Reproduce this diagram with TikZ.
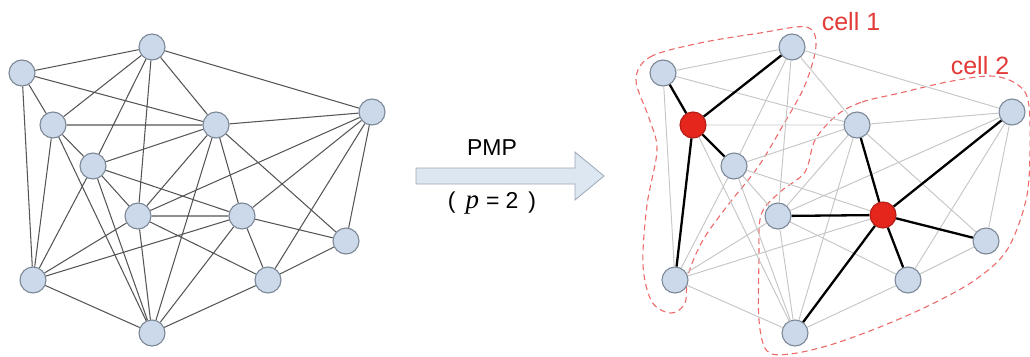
\documentclass[tikz,border=0pt]{standalone}
\usepackage{fontspec}
\setmainfont{Liberation Sans}
\newfontfamily\symfont{Liberation Serif}
\usepackage{xcolor}
\usetikzlibrary{positioning}
\definecolor{vtxfill}{HTML}{CBD9EA}
\definecolor{vtxline}{HTML}{7D8896}
\definecolor{hubfill}{HTML}{E4261C}
\definecolor{hubline}{HTML}{B31D15}
\definecolor{edgegray}{HTML}{555555}
\definecolor{fadegray}{HTML}{C6C6C6}
\definecolor{cellred}{HTML}{EC6A6A}
\definecolor{celltext}{HTML}{E23A36}
\definecolor{arrowfill}{HTML}{DDE7F2}
\definecolor{arrowline}{HTML}{9AA7B5}
\tikzset{
  vtx/.style={circle,draw=vtxline,fill=vtxfill,line width=1.1pt,
              minimum size=26pt,inner sep=0pt},
  hubvtx/.style={vtx,draw=hubline,fill=hubfill},
  edgeline/.style={draw=edgegray,line width=1.05pt},
  fadeline/.style={draw=fadegray,line width=0.95pt},
  linkline/.style={draw=black,line width=2.3pt},
  cellline/.style={draw=cellred,line width=1.1pt,dash pattern=on 6pt off 4pt},
  celllabel/.style={text=celltext,font=\fontsize{25}{28}\selectfont,inner sep=0pt},
  steplabel/.style={font=\fontsize{23}{26}\selectfont,inner sep=0pt},
  blockarr/.style={draw=arrowline,fill=arrowfill,line width=0.8pt,line join=miter}
}

\begin{document}
\begin{tikzpicture}[x=1pt,y=-1pt]
  \useasboundingbox (0,0) rectangle (1030,356);

  % input graph
  \node[vtx] (p1) at (152,47) {};
  \node[vtx] (p2) at (22,73) {};
  \node[vtx] (p3) at (53,125) {};
  \node[vtx] (p4) at (93,166) {};
  \node[vtx] (p5) at (216,125) {};
  \node[vtx] (p6) at (372,112) {};
  \node[vtx] (p7) at (138,216) {};
  \node[vtx] (p8) at (242,216) {};
  \node[vtx] (p9) at (346,241) {};
  \node[vtx] (p10) at (33,280) {};
  \node[vtx] (p11) at (268,280) {};
  \node[vtx] (p12) at (152,333) {};

  \draw[edgeline] (p1) -- (p2) (p1) -- (p3) (p1) -- (p4) (p1) -- (p5) (p1) -- (p6) (p1) -- (p7)
    (p2) -- (p3) (p2) -- (p5) (p2) -- (p10)
    (p3) -- (p4) (p3) -- (p5) (p3) -- (p10) (p3) -- (p12)
    (p4) -- (p5) (p4) -- (p7) (p4) -- (p8) (p4) -- (p10) (p4) -- (p12)
    (p5) -- (p6) (p5) -- (p7) (p5) -- (p8) (p5) -- (p9) (p5) -- (p12)
    (p6) -- (p7) (p6) -- (p8) (p6) -- (p9) (p6) -- (p11)
    (p7) -- (p8) (p7) -- (p10) (p7) -- (p11) (p7) -- (p12)
    (p8) -- (p9) (p8) -- (p10) (p8) -- (p11) (p8) -- (p12)
    (p9) -- (p11) (p10) -- (p12) (p11) -- (p12);

  % transformation arrow
  \draw[blockarr] (416,168) -- (575,168) -- (575,152) -- (604,176)
    -- (575,200) -- (575,184) -- (416,184) -- cycle;
  \node[steplabel] (pmp) at (492,148) {PMP};
  \node[steplabel] (pval) at (492,203) {(\hspace{10pt}{\symfont\itshape\fontsize{27}{27}\selectfont p}\hspace{7pt}=\hspace{6pt}2\hspace{10pt})};

  % partitioned graph
  \draw[cellline] plot[smooth cycle,tension=0.55] coordinates {
    (636,80) (650,57) (700,43) (760,33) (806,27) (816,45) (805,85)
    (782,127) (758,167) (728,205) (703,240) (688,275) (685,303)
    (671,313) (652,302) (643,265) (647,205) (657,150) (649,118)};
  \draw[cellline] plot[smooth cycle,tension=0.55] coordinates {
    (837,115) (862,102) (900,93) (947,82) (990,76) (1015,83) (1028,100)
    (1030,150) (1026,200) (1007,250) (975,280) (930,305) (880,327)
    (830,345) (790,354) (767,351) (759,320) (759,260) (761,215)
    (780,192) (805,172) (815,140)};
  \node[celllabel] (cellA) at (851,22) {cell 1};
  \node[celllabel] (cellB) at (980,66) {cell 2};

  \node[vtx] (q1) at (792,47) {};
  \node[vtx] (q2) at (663,73) {};
  \node[hubvtx] (q3) at (693,125) {};
  \node[vtx] (q4) at (734,166) {};
  \node[vtx] (q5) at (857,125) {};
  \node[vtx] (q6) at (1012,112) {};
  \node[vtx] (q7) at (778,216) {};
  \node[hubvtx] (q8) at (883,215) {};
  \node[vtx] (q9) at (986,241) {};
  \node[vtx] (q10) at (675,280) {};
  \node[vtx] (q11) at (908,280) {};
  \node[vtx] (q12) at (795,333) {};

  \draw[fadeline] (q1) -- (q2) (q1) -- (q4) (q1) -- (q5) (q1) -- (q6) (q1) -- (q7)
    (q2) -- (q5) (q2) -- (q10)
    (q3) -- (q5) (q3) -- (q12)
    (q4) -- (q5) (q4) -- (q7) (q4) -- (q8) (q4) -- (q10) (q4) -- (q12)
    (q5) -- (q6) (q5) -- (q7) (q5) -- (q9) (q5) -- (q12)
    (q6) -- (q7) (q6) -- (q9) (q6) -- (q11)
    (q7) -- (q10) (q7) -- (q11) (q7) -- (q12)
    (q8) -- (q10) (q9) -- (q11) (q10) -- (q12) (q11) -- (q12);
  \draw[linkline] (q3) -- (q1) (q3) -- (q2) (q3) -- (q4) (q3) -- (q10);
  \draw[linkline] (q8) -- (q5) (q8) -- (q6) (q8) -- (q7) (q8) -- (q9)
    (q8) -- (q11) (q8) -- (q12);
\end{tikzpicture}
\end{document}
